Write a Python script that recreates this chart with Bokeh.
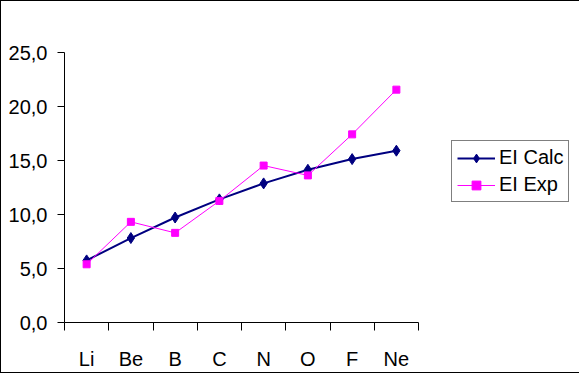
from bokeh.plotting import figure
from bokeh.models import FixedTicker, Range1d, Legend, LegendItem
from bokeh.embed import file_html
from bokeh.resources import INLINE

elements = ["Li", "Be", "B", "C", "N", "O", "F", "Ne"]
ei_calc = [5.75, 7.82, 9.72, 11.40, 12.88, 14.14, 15.13, 15.91]
ei_exp = [5.39, 9.32, 8.30, 11.26, 14.53, 13.62, 17.42, 21.56]
y_ticks = [0, 5, 10, 15, 20, 25]

xs = [i + 0.5 for i in range(len(elements))]
FONT = "Liberation Sans"

p = figure(frame_width=354, frame_height=270, output_backend="svg",
           toolbar_location=None, min_border_left=63, min_border_right=144,
           min_border_top=51, min_border_bottom=50,
           x_range=Range1d(0, len(elements)), y_range=Range1d(0, 25))
p.styles = {"border": "1px solid black"}
p.background_fill_color = "white"
p.border_fill_color = "white"
p.outline_line_color = None
p.xgrid.grid_line_color = None
p.ygrid.grid_line_color = None

# y axis
p.yaxis.ticker = FixedTicker(ticks=y_ticks, minor_ticks=[])
p.yaxis.major_label_overrides = {t: f"{t:.1f}".replace(".", ",") for t in y_ticks}
p.yaxis.major_tick_out = 7
p.yaxis.major_tick_in = 0
p.yaxis.minor_tick_line_color = None
p.yaxis.major_label_standoff = 10
p.yaxis.axis_line_color = "black"
p.yaxis.major_label_text_font = FONT
p.yaxis.major_label_text_font_size = "20px"
p.yaxis.major_label_text_color = "black"

# x axis: labels at centres, ticks at boundaries
p.xaxis.ticker = FixedTicker(ticks=xs, minor_ticks=list(range(len(elements) + 1)))
p.xaxis.major_label_overrides = {x: e for x, e in zip(xs, elements)}
p.xaxis.major_tick_line_color = None
p.xaxis.major_tick_out = 8
p.xaxis.minor_tick_out = 8
p.xaxis.minor_tick_in = 0
p.xaxis.minor_tick_line_color = "black"
p.xaxis.major_label_standoff = 17
p.xaxis.major_label_text_font = FONT
p.xaxis.major_label_text_font_size = "20px"
p.xaxis.major_label_text_color = "black"

l1 = p.line(xs, ei_calc, line_color="#000080", line_width=2)
s1 = p.scatter(xs, ei_calc, marker="diamond", size=11, fill_color="#000080",
               line_color="#000080")
l2 = p.line(xs, ei_exp, line_color="#FF00FF", line_width=1)
s2 = p.scatter(xs, ei_exp, marker="square", size=7, fill_color="#FF00FF",
               line_color="#FF00FF")

legend = Legend(items=[LegendItem(label="EI Calc", renderers=[l1, s1]),
                       LegendItem(label="EI Exp", renderers=[l2, s2])],
                location=(33, 120))
legend.border_line_color = "black"
legend.border_line_width = 1
legend.background_fill_color = "white"
legend.label_text_font = FONT
legend.label_text_font_size = "20px"
legend.label_text_color = "black"
legend.glyph_width = 38
legend.glyph_height = 22
legend.label_height = 22
legend.label_standoff = 4
legend.padding = 5
legend.spacing = 4
legend.margin = 0
p.add_layout(legend, "right")

open("out.html", "w").write(file_html(p, INLINE))
